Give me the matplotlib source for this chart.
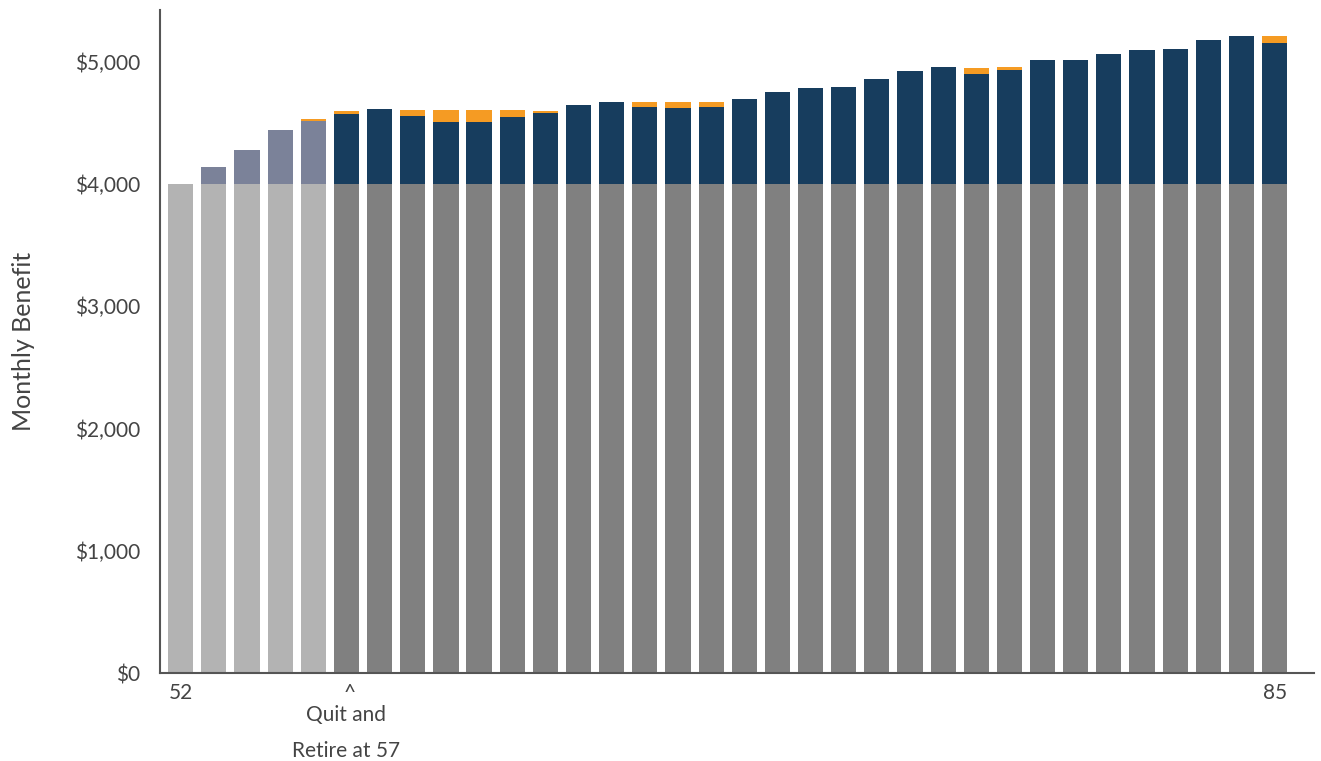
import numpy as np
import matplotlib.pyplot as plt
from matplotlib.ticker import FuncFormatter

plt.rcParams['font.family'] = ['Lato', 'DejaVu Sans']

# ages 52..85
ages = list(range(52, 86))
base = [4000] * 34
# growth above the $4,000 base (slate before retirement, navy after)
extra = [0, 139, 278, 442, 512,
         570, 611, 559, 510, 510, 548, 580, 646, 668, 627, 619, 627,
         693, 750, 783, 791, 856, 922, 954, 897, 930, 1014, 1014, 1063,
         1093, 1104, 1175, 1208, 1151]
# orange sliver on top
orange = [0, 0, 0, 0, 17,
          27, 0, 46, 95, 95, 57, 20, 0, 0, 41, 49, 41,
          0, 0, 0, 0, 0, 0, 0, 49, 24, 0, 0, 0,
          0, 0, 0, 0, 60]

retire_age = 57

fig = plt.figure(figsize=(13.21, 7.61), dpi=100)
ax = fig.add_axes([0.121, 0.1156, 0.874, 0.8714])

x = np.array(ages)
pre = x < retire_age
base_col = np.where(pre, '#b3b3b3', '#808080')
extra_col = np.where(pre, '#7b8299', '#173d5e')
w = 0.76

ax.bar(x, base, width=w, color=base_col)
ax.bar(x, extra, width=w, bottom=base, color=extra_col)
ax.bar(x, orange, width=w, bottom=np.array(base) + np.array(extra), color='#f59b23')

ax.set_xlim(51.37, 86.2)
ax.set_ylim(0, 5425)

ax.set_yticks([0, 1000, 2000, 3000, 4000, 5000])
ax.yaxis.set_major_formatter(FuncFormatter(lambda v, _: f'${v:,.0f}'))
ax.tick_params(axis='y', length=0, pad=14, labelsize=15, labelcolor='#444444')
ax.set_xticks([52, 85])
ax.set_xticklabels(['52', '85'])
ax.tick_params(axis='x', length=0, pad=7, labelsize=15, labelcolor='#444444')

ax.set_ylabel('Monthly Benefit', fontsize=18, color='#444444')
ax.yaxis.set_label_coords(-0.108, 0.5)

for s in ['top', 'right']:
    ax.spines[s].set_visible(False)
for s in ['left', 'bottom']:
    ax.spines[s].set_color('#555555')
    ax.spines[s].set_linewidth(1.5)

ax.annotate('^', xy=(retire_age + 0.1, 0), xytext=(0, -7), textcoords='offset points',
            ha='center', va='top', fontsize=15, color='#444444', annotation_clip=False)
ax.annotate('Quit and', xy=(retire_age, 0), xytext=(0, -23), textcoords='offset points',
            ha='center', va='top', fontsize=15, color='#444444', annotation_clip=False)
ax.annotate('Retire at 57', xy=(retire_age, 0), xytext=(0, -49), textcoords='offset points',
            ha='center', va='top', fontsize=15, color='#444444', annotation_clip=False)

fig.savefig('out.png', dpi=100)
